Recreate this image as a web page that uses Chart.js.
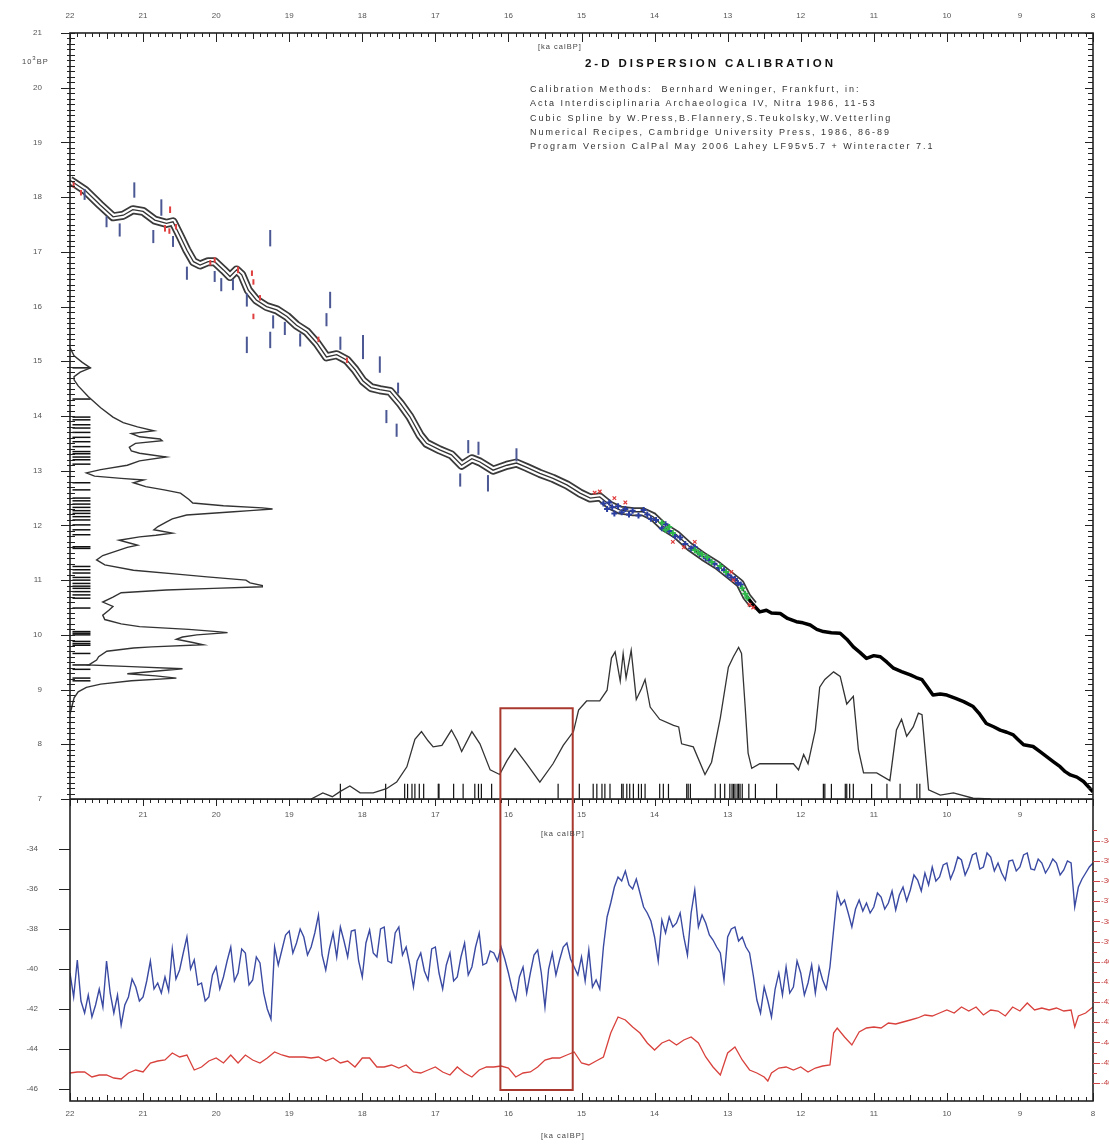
<!DOCTYPE html>
<html>
<head>
<meta charset="utf-8">
<title>2-D Dispersion Calibration</title>
<script src="https://cdn.jsdelivr.net/npm/chart.js@4.4.1/dist/chart.umd.min.js"></script>
<style>
  body { margin: 0; background: #fff; }
  #page { position: relative; width: 1109px; height: 1146px; overflow: hidden; font-family: "Liberation Sans", Arial, sans-serif; }
  #page canvas { position: absolute; left: 0; }
  .lbl { position: absolute; font-size: 7.5px; letter-spacing: 1px; white-space: nowrap; color: #444; }
  #title { position: absolute; left: 585px; top: 57px; font-weight: bold; font-size: 11.5px; letter-spacing: 2.95px; color: #111; white-space: nowrap; }
  #credits { position: absolute; left: 530px; top: 82px; font-size: 9px; line-height: 14.3px; letter-spacing: 2px; color: #333; white-space: nowrap; }
</style>
</head>
<body>
<div id="page">
  <canvas id="calChart" width="1109" height="850" style="top:0"></canvas>
  <canvas id="isoChart" width="1109" height="347" style="top:799px"></canvas>
  <div class="lbl" style="left:538px;top:42px">[ka calBP]</div>
  <div class="lbl" style="left:22px;top:55px">10<sup style="font-size:6px">3</sup>BP</div>
  <div id="title">2-D DISPERSION CALIBRATION</div>
  <div id="credits">
    Calibration Methods:&nbsp; Bernhard Weninger, Frankfurt, in:<br>
    Acta Interdisciplinaria Archaeologica IV, Nitra 1986, 11-53<br>
    Cubic Spline by W.Press,B.Flannery,S.Teukolsky,W.Vetterling<br>
    Numerical Recipes, Cambridge University Press, 1986, 86-89<br>
    Program Version CalPal May 2006 Lahey LF95v5.7 + Winteracter 7.1
  </div>
  <div class="lbl" style="left:541px;top:829px">[ka calBP]</div>
  <div class="lbl" style="left:541px;top:1131px">[ka calBP]</div>
</div>
<script>
// calibration curve, cal ka BP vs 14C age (10^3 BP)
var bandAge = [22.00, 21.79, 21.59, 21.41, 21.27, 21.14, 21.00, 20.84, 20.68, 20.59, 20.49, 20.40, 20.31, 20.22, 20.11, 20.02, 19.90, 19.81, 19.72, 19.65, 19.56, 19.45, 19.31, 19.17, 19.03, 18.90, 18.76, 18.62, 18.49, 18.35, 18.21, 18.10, 17.99, 17.88, 17.76, 17.62, 17.48, 17.35, 17.21, 17.12, 16.94, 16.78, 16.64, 16.50, 16.39, 16.21, 16.02, 15.89, 15.75, 15.57, 15.39, 15.20, 15.02, 14.88, 14.75, 14.61, 14.47, 14.29, 14.16, 14.02, 13.88, 13.70, 13.52, 13.33, 13.15, 12.97, 12.83, 12.74, 12.65];
var band14C = [18.31, 18.12, 17.86, 17.64, 17.67, 17.77, 17.74, 17.58, 17.52, 17.55, 17.28, 17.03, 16.82, 16.76, 16.82, 16.82, 16.67, 16.55, 16.67, 16.58, 16.30, 16.12, 16.00, 15.94, 15.82, 15.66, 15.54, 15.33, 15.08, 15.12, 15.02, 14.85, 14.64, 14.52, 14.48, 14.45, 14.23, 13.99, 13.65, 13.50, 13.38, 13.29, 13.10, 13.22, 13.16, 13.01, 13.10, 13.14, 13.06, 12.95, 12.86, 12.74, 12.59, 12.50, 12.52, 12.37, 12.28, 12.25, 12.25, 12.16, 11.98, 11.83, 11.61, 11.43, 11.28, 11.09, 10.94, 10.70, 10.55];
var tailAge = [12.74, 12.65, 12.56, 12.47, 12.40, 12.28, 12.18, 12.06, 11.97, 11.87, 11.78, 11.69, 11.58, 11.46, 11.37, 11.28, 11.19, 11.10, 11.00, 10.91, 10.82, 10.73, 10.62, 10.50, 10.42, 10.34, 10.27, 10.19, 10.09, 10.00, 9.88, 9.77, 9.64, 9.55, 9.46, 9.36, 9.27, 9.18, 9.09, 9.02, 8.95, 8.82, 8.72, 8.63, 8.54, 8.45, 8.38, 8.31, 8.22, 8.13, 8.06, 8.00];
var tail14C = [10.70, 10.55, 10.42, 10.45, 10.40, 10.39, 10.30, 10.24, 10.22, 10.18, 10.10, 10.06, 10.04, 10.03, 9.92, 9.78, 9.68, 9.57, 9.62, 9.60, 9.50, 9.39, 9.33, 9.27, 9.22, 9.18, 9.05, 8.90, 8.92, 8.90, 8.84, 8.78, 8.69, 8.55, 8.38, 8.32, 8.26, 8.22, 8.17, 8.08, 7.99, 7.96, 7.86, 7.77, 7.68, 7.59, 7.50, 7.44, 7.40, 7.32, 7.22, 7.13];

// dated samples on the curve (blue with error, red)
var dateAge = [21.80, 21.50, 21.32, 21.12, 20.86, 20.75, 20.59, 20.40, 20.02, 19.93, 19.77, 19.58, 19.26, 19.22, 19.06, 18.85, 19.58, 19.26, 18.49, 18.44, 18.30, 17.99, 17.76, 17.67, 17.53, 17.51, 16.66, 16.55, 16.41, 16.28, 15.89];
var date14C = [18.05, 17.55, 17.40, 18.13, 17.28, 17.81, 17.19, 16.61, 16.55, 16.40, 16.40, 16.12, 17.25, 15.72, 15.60, 15.39, 15.30, 15.39, 15.76, 16.12, 15.33, 15.26, 14.94, 13.99, 13.74, 14.51, 12.83, 13.44, 13.41, 12.77, 13.29];
var dateErr = [0.10, 0.10, 0.12, 0.14, 0.12, 0.15, 0.10, 0.12, 0.10, 0.12, 0.10, 0.12, 0.15, 0.12, 0.12, 0.12, 0.15, 0.15, 0.12, 0.15, 0.12, 0.22, 0.15, 0.12, 0.12, 0.10, 0.12, 0.12, 0.12, 0.15, 0.12];
var redDateAge = [21.95, 21.85, 20.70, 20.64, 20.55, 20.63, 20.08, 20.02, 19.70, 19.51, 19.49, 19.49, 19.40, 18.21, 18.60];
var redDate14C = [18.22, 18.08, 17.43, 17.38, 17.46, 17.77, 16.80, 16.85, 16.67, 16.61, 16.45, 15.82, 16.16, 15.02, 15.40];
var redDateErr = [0.05, 0.05, 0.06, 0.05, 0.05, 0.06, 0.05, 0.05, 0.06, 0.05, 0.05, 0.05, 0.05, 0.05, 0.05];

// dense dated series along the curve 14.8 - 12.7 ka
var blueMarkAge = [14.70, 14.65, 14.62, 14.58, 14.55, 14.50, 14.45, 14.40, 14.35, 14.30, 14.22, 14.15, 14.10, 14.05, 13.98, 13.90, 13.85, 13.80, 13.72, 13.65, 13.58, 13.50, 13.45, 13.38, 13.30, 13.25, 13.18, 13.12, 13.05, 13.00, 12.95, 12.90, 12.86, 12.82];
var blueMark14C = [12.40, 12.30, 12.42, 12.33, 12.22, 12.35, 12.24, 12.30, 12.20, 12.27, 12.18, 12.28, 12.20, 12.12, 12.10, 11.95, 12.02, 11.90, 11.80, 11.78, 11.66, 11.58, 11.60, 11.48, 11.40, 11.36, 11.30, 11.22, 11.18, 11.10, 11.05, 11.02, 10.95, 10.92];
var greenMarkAge = [13.90, 13.85, 13.80, 13.75, 13.45, 13.40, 13.35, 13.28, 13.22, 13.10, 13.02, 12.80, 12.76, 12.73];
var greenMark14C = [12.05, 11.92, 11.97, 11.86, 11.55, 11.50, 11.47, 11.42, 11.33, 11.26, 11.15, 10.85, 10.75, 10.68];
var redMarkAge = [14.82, 14.75, 14.55, 14.40, 13.75, 13.60, 13.45, 12.95, 12.92, 12.70, 12.65];
var redMark14C = [12.60, 12.62, 12.50, 12.42, 11.70, 11.60, 11.70, 11.15, 11.00, 10.55, 10.50];

// summed 14C probability (left) and its dates
var dens14C = [15.25, 15.10, 14.98, 14.88, 14.80, 14.72, 14.66, 14.55, 14.35, 14.15, 13.98, 13.88, 13.80, 13.73, 13.68, 13.62, 13.58, 13.55, 13.50, 13.43, 13.36, 13.32, 13.25, 13.18, 13.10, 13.02, 12.96, 12.90, 12.86, 12.83, 12.78, 12.71, 12.65, 12.59, 12.48, 12.41, 12.36, 12.32, 12.30, 12.27, 12.25, 12.19, 12.12, 12.06, 11.98, 11.92, 11.86, 11.82, 11.79, 11.73, 11.67, 11.64, 11.60, 11.55, 11.45, 11.37, 11.28, 11.18, 11.10, 11.06, 11.00, 10.95, 10.90, 10.88, 10.85, 10.82, 10.77, 10.69, 10.60, 10.52, 10.45, 10.36, 10.28, 10.20, 10.15, 10.10, 10.06, 10.04, 10.00, 9.96, 9.92, 9.86, 9.82, 9.78, 9.76, 9.70, 9.60, 9.54, 9.47, 9.45, 9.42, 9.38, 9.33, 9.29, 9.25, 9.21, 9.16, 9.10, 9.04, 8.96, 8.85, 8.70, 8.55];
var densVal = [0, 0.02, 0.06, 0.10, 0.05, 0.02, 0.02, 0.04, 0.09, 0.15, 0.21, 0.26, 0.33, 0.41, 0.30, 0.34, 0.44, 0.45, 0.32, 0.29, 0.30, 0.34, 0.47, 0.34, 0.28, 0.15, 0.08, 0.12, 0.25, 0.36, 0.31, 0.37, 0.46, 0.54, 0.58, 0.60, 0.75, 0.94, 0.99, 0.88, 0.80, 0.57, 0.50, 0.47, 0.43, 0.41, 0.50, 0.42, 0.34, 0.24, 0.30, 0.33, 0.28, 0.24, 0.16, 0.13, 0.17, 0.31, 0.55, 0.67, 0.86, 0.88, 0.94, 0.94, 0.70, 0.47, 0.25, 0.21, 0.16, 0.21, 0.19, 0.16, 0.17, 0.25, 0.34, 0.58, 0.72, 0.77, 0.62, 0.55, 0.52, 0.60, 0.65, 0.40, 0.31, 0.18, 0.14, 0.13, 0.10, 0.09, 0.30, 0.55, 0.40, 0.28, 0.42, 0.52, 0.30, 0.15, 0.08, 0.04, 0.02, 0.01, 0];
var rug14C = [14.88, 14.31, 13.98, 13.93, 13.84, 13.78, 13.70, 13.61, 13.53, 13.44, 13.35, 13.31, 13.25, 13.20, 13.12, 12.78, 12.65, 12.50, 12.45, 12.39, 12.33, 12.27, 12.22, 12.16, 12.10, 12.01, 11.92, 11.83, 11.61, 11.58, 11.25, 11.19, 11.13, 11.05, 11.00, 10.94, 10.89, 10.85, 10.79, 10.73, 10.67, 10.49, 10.06, 10.03, 10.00, 9.88, 9.84, 9.81, 9.66, 9.45, 9.37, 9.21, 9.16];

// summed calendric probability (bottom) and its dates
var calDensAge = [18.70, 18.54, 18.41, 18.30, 18.17, 18.03, 17.85, 17.67, 17.53, 17.39, 17.28, 17.19, 17.10, 17.03, 16.91, 16.78, 16.70, 16.64, 16.50, 16.39, 16.25, 16.12, 16.02, 15.91, 15.75, 15.57, 15.39, 15.25, 15.11, 15.04, 14.93, 14.75, 14.65, 14.59, 14.54, 14.47, 14.43, 14.39, 14.32, 14.25, 14.18, 14.13, 14.06, 13.93, 13.74, 13.67, 13.63, 13.47, 13.31, 13.22, 13.10, 12.99, 12.92, 12.85, 12.81, 12.76, 12.72, 12.67, 12.56, 12.47, 12.19, 12.10, 12.03, 11.96, 11.90, 11.80, 11.74, 11.67, 11.55, 11.46, 11.37, 11.28, 11.21, 11.14, 10.96, 10.78, 10.69, 10.62, 10.55, 10.46, 10.39, 10.34, 10.25, 10.09, 9.91, 9.64, 9.40];
var calDensVal = [0, 0.04, 0.015, 0.05, 0.085, 0.04, 0.04, 0.067, 0.11, 0.21, 0.39, 0.44, 0.38, 0.34, 0.35, 0.45, 0.38, 0.31, 0.44, 0.36, 0.19, 0.16, 0.25, 0.33, 0.23, 0.11, 0.23, 0.35, 0.44, 0.58, 0.64, 0.64, 0.71, 0.92, 0.96, 0.77, 0.95, 0.79, 0.97, 0.65, 0.72, 0.78, 0.60, 0.52, 0.48, 0.47, 0.36, 0.34, 0.16, 0.24, 0.53, 0.86, 0.93, 0.99, 0.95, 0.60, 0.30, 0.20, 0.23, 0.23, 0.23, 0.23, 0.19, 0.29, 0.23, 0.45, 0.73, 0.78, 0.83, 0.80, 0.62, 0.67, 0.32, 0.17, 0.17, 0.12, 0.45, 0.52, 0.41, 0.47, 0.56, 0.55, 0.06, 0.026, 0.04, 0.005, 0];
var rugAge = [18.30, 17.68, 17.42, 17.38, 17.32, 17.28, 17.22, 17.16, 16.96, 16.95, 16.75, 16.62, 16.46, 16.41, 16.37, 16.23, 15.32, 15.03, 14.84, 14.79, 14.72, 14.68, 14.61, 14.45, 14.43, 14.38, 14.34, 14.29, 14.22, 14.18, 14.13, 13.93, 13.88, 13.81, 13.56, 13.54, 13.51, 13.17, 13.10, 13.04, 12.97, 12.94, 12.92, 12.90, 12.87, 12.85, 12.83, 12.80, 12.71, 12.62, 12.33, 11.69, 11.67, 11.58, 11.39, 11.37, 11.33, 11.28, 11.03, 10.82, 10.64, 10.41, 10.37];

// ice core isotope records (bottom panel)
var blueAge = [22.00, 21.95, 21.90, 21.85, 21.80, 21.75, 21.70, 21.65, 21.60, 21.55, 21.50, 21.45, 21.40, 21.35, 21.30, 21.25, 21.20, 21.15, 21.10, 21.05, 21.00, 20.95, 20.90, 20.85, 20.80, 20.75, 20.70, 20.65, 20.60, 20.55, 20.50, 20.45, 20.40, 20.35, 20.30, 20.25, 20.20, 20.15, 20.10, 20.05, 20.00, 19.95, 19.90, 19.85, 19.80, 19.75, 19.70, 19.65, 19.60, 19.55, 19.50, 19.45, 19.40, 19.35, 19.30, 19.25, 19.20, 19.15, 19.10, 19.05, 19.00, 18.95, 18.90, 18.85, 18.80, 18.75, 18.70, 18.65, 18.60, 18.55, 18.50, 18.45, 18.40, 18.35, 18.30, 18.25, 18.20, 18.15, 18.10, 18.05, 18.00, 17.95, 17.90, 17.85, 17.80, 17.75, 17.70, 17.65, 17.60, 17.55, 17.50, 17.45, 17.40, 17.35, 17.30, 17.25, 17.20, 17.15, 17.10, 17.05, 17.00, 16.95, 16.90, 16.85, 16.80, 16.75, 16.70, 16.65, 16.60, 16.55, 16.50, 16.45, 16.40, 16.35, 16.30, 16.25, 16.20, 16.15, 16.10, 16.05, 16.00, 15.95, 15.90, 15.85, 15.80, 15.75, 15.70, 15.65, 15.60, 15.55, 15.50, 15.45, 15.40, 15.35, 15.30, 15.25, 15.20, 15.15, 15.10, 15.05, 15.00, 14.95, 14.90, 14.85, 14.80, 14.75, 14.70, 14.65, 14.60, 14.55, 14.50, 14.45, 14.40, 14.35, 14.30, 14.25, 14.20, 14.15, 14.10, 14.05, 14.00, 13.95, 13.90, 13.85, 13.80, 13.75, 13.70, 13.65, 13.60, 13.55, 13.50, 13.45, 13.40, 13.35, 13.30, 13.25, 13.20, 13.15, 13.10, 13.05, 13.00, 12.95, 12.90, 12.85, 12.80, 12.75, 12.70, 12.65, 12.60, 12.55, 12.50, 12.45, 12.40, 12.35, 12.30, 12.25, 12.20, 12.15, 12.10, 12.05, 12.00, 11.95, 11.90, 11.85, 11.80, 11.75, 11.70, 11.65, 11.60, 11.55, 11.50, 11.45, 11.40, 11.35, 11.30, 11.25, 11.20, 11.15, 11.10, 11.05, 11.00, 10.95, 10.90, 10.85, 10.80, 10.75, 10.70, 10.65, 10.60, 10.55, 10.50, 10.45, 10.40, 10.35, 10.30, 10.25, 10.20, 10.15, 10.10, 10.05, 10.00, 9.95, 9.90, 9.85, 9.80, 9.75, 9.70, 9.65, 9.60, 9.55, 9.50, 9.45, 9.40, 9.35, 9.30, 9.25, 9.20, 9.15, 9.10, 9.05, 9.00, 8.95, 8.90, 8.85, 8.80, 8.75, 8.70, 8.65, 8.60, 8.55, 8.50, 8.45, 8.40, 8.35, 8.30, 8.25, 8.20, 8.15, 8.10, 8.05, 8.00];
var blueD18O = [-40.2, -41.4, -39.55, -41.6, -42.2, -41.3, -42.4, -41.8, -41.0, -41.9, -39.6, -41.2, -42.2, -41.3, -42.8, -41.8, -41.4, -40.5, -40.9, -41.6, -41.4, -40.6, -39.6, -41.0, -40.7, -41.2, -40.4, -41.1, -39.0, -40.5, -40.05, -39.2, -38.4, -40.0, -39.55, -40.8, -40.7, -41.6, -41.4, -40.3, -39.9, -41.0, -40.4, -39.6, -38.9, -40.6, -40.2, -39.0, -39.2, -40.8, -40.55, -39.4, -39.7, -41.2, -42.0, -42.5, -38.9, -39.8, -39.05, -38.3, -38.1, -39.2, -38.7, -38.0, -38.4, -39.3, -38.9, -38.2, -37.3, -39.3, -40.05, -39.0, -38.2, -39.4, -37.9, -38.6, -39.4, -38.1, -38.05, -39.6, -40.4, -38.7, -38.05, -39.2, -39.4, -38.0, -37.9, -39.6, -39.7, -38.2, -37.9, -39.3, -38.9, -39.8, -40.9, -39.6, -39.2, -40.1, -40.55, -39.0, -38.9, -40.2, -41.0, -39.8, -39.2, -40.6, -40.4, -39.4, -38.7, -40.3, -39.9, -38.9, -38.2, -39.8, -39.7, -39.1, -39.2, -39.6, -38.9, -39.5, -40.2, -41.0, -41.55, -40.4, -39.9, -41.2, -40.2, -39.3, -39.05, -40.2, -41.9, -40.0, -39.2, -40.3, -39.55, -38.9, -38.7, -39.5, -39.9, -40.3, -39.4, -40.6, -39.05, -40.9, -40.55, -41.0, -38.9, -37.4, -36.7, -35.9, -35.4, -35.6, -35.1, -35.8, -36.0, -35.5, -36.2, -36.9, -37.2, -37.6, -38.4, -39.6, -37.55, -38.2, -37.4, -37.9, -37.7, -37.2, -38.4, -39.3, -37.2, -36.05, -37.9, -37.3, -37.7, -38.3, -38.55, -38.9, -39.2, -40.55, -38.4, -38.0, -37.9, -38.6, -38.4, -38.9, -39.2, -40.3, -41.55, -42.2, -40.9, -41.6, -42.4, -41.0, -40.2, -41.3, -39.9, -41.2, -40.9, -39.6, -40.2, -41.3, -40.7, -39.8, -41.2, -39.9, -40.55, -41.0, -39.9, -38.05, -36.2, -36.8, -36.55, -37.2, -37.9, -37.0, -36.55, -37.1, -36.7, -37.2, -36.9, -36.2, -36.4, -37.0, -36.7, -36.1, -37.05, -36.3, -35.9, -36.6, -36.05, -35.3, -35.55, -36.1, -35.2, -35.8, -34.9, -35.6, -35.4, -34.8, -34.7, -35.5, -35.05, -34.4, -34.55, -35.3, -34.9, -34.3, -34.2, -35.0, -34.9, -34.2, -34.4, -35.1, -34.7, -35.2, -35.55, -34.6, -34.55, -35.1, -34.9, -34.3, -34.2, -35.0, -35.05, -34.5, -34.7, -35.2, -34.9, -34.5, -34.7, -35.3, -35.05, -34.6, -34.7, -36.9, -35.9, -35.5, -35.2, -34.9, -34.7];
var redAge = [22.0, 21.9, 21.8, 21.7, 21.6, 21.5, 21.4, 21.3, 21.2, 21.1, 21.0, 20.9, 20.8, 20.7, 20.6, 20.5, 20.4, 20.3, 20.2, 20.1, 20.0, 19.9, 19.8, 19.7, 19.6, 19.5, 19.4, 19.3, 19.2, 19.1, 19.0, 18.9, 18.8, 18.7, 18.6, 18.5, 18.4, 18.3, 18.2, 18.1, 18.0, 17.9, 17.8, 17.7, 17.6, 17.5, 17.4, 17.3, 17.2, 17.1, 17.0, 16.9, 16.8, 16.7, 16.6, 16.5, 16.4, 16.3, 16.2, 16.1, 16.0, 15.9, 15.8, 15.7, 15.6, 15.5, 15.4, 15.3, 15.2, 15.1, 15.0, 14.9, 14.8, 14.7, 14.6, 14.5, 14.4, 14.3, 14.2, 14.1, 14.0, 13.9, 13.8, 13.7, 13.6, 13.5, 13.4, 13.3, 13.2, 13.1, 13.0, 12.9, 12.8, 12.7, 12.6, 12.5, 12.45, 12.4, 12.3, 12.2, 12.1, 12.0, 11.9, 11.8, 11.7, 11.6, 11.55, 11.5, 11.4, 11.3, 11.2, 11.1, 11.0, 10.9, 10.8, 10.7, 10.6, 10.5, 10.4, 10.3, 10.2, 10.1, 10.0, 9.9, 9.8, 9.7, 9.6, 9.5, 9.4, 9.3, 9.2, 9.1, 9.0, 8.9, 8.8, 8.7, 8.6, 8.5, 8.4, 8.3, 8.25, 8.2, 8.1, 8.0];
var redD18O = [-45.2, -45.15, -45.15, -45.4, -45.3, -45.3, -45.45, -45.5, -45.2, -45.05, -45.15, -44.7, -44.6, -44.55, -44.2, -44.4, -44.3, -45.05, -44.9, -44.6, -44.45, -44.7, -44.3, -44.7, -44.3, -44.55, -44.7, -44.45, -44.15, -44.3, -44.4, -44.4, -44.4, -44.45, -44.4, -44.6, -44.45, -44.7, -44.6, -44.9, -44.45, -44.45, -44.9, -44.9, -44.8, -44.95, -44.8, -45.15, -45.2, -45.05, -44.9, -45.15, -45.3, -44.9, -45.2, -45.4, -45.05, -44.9, -44.9, -44.85, -44.95, -45.4, -45.2, -45.15, -44.9, -44.55, -44.45, -44.45, -44.3, -44.15, -44.7, -44.8, -44.6, -44.4, -43.2, -42.4, -42.55, -42.9, -43.2, -43.7, -44.05, -43.7, -43.55, -43.8, -43.55, -43.4, -43.7, -44.4, -44.9, -45.3, -44.2, -43.9, -44.55, -45.05, -45.2, -45.4, -45.6, -45.2, -44.95, -44.9, -45.05, -44.9, -45.15, -44.95, -44.85, -44.8, -43.2, -42.95, -43.4, -43.8, -43.15, -42.95, -42.9, -42.95, -42.7, -42.75, -42.65, -42.55, -42.45, -42.3, -42.35, -42.2, -42.05, -42.2, -41.9, -42.1, -41.9, -42.3, -42.05, -42.1, -42.35, -41.9, -42.1, -41.7, -42.05, -41.95, -42.05, -41.95, -42.1, -42.05, -42.9, -42.35, -42.2, -41.9];

// axis ticks and the marked interval
var calTicks = [22, 21, 20, 19, 18, 17, 16, 15, 14, 13, 12, 11, 10, 9, 8];
var c14Ticks = [21, 20, 19, 18, 17, 16, 15, 14, 13, 12, 11, 10, 9, 8, 7];
var isoTicks = [-34, -36, -38, -40, -42, -44, -46];
var redAxisTicks = [0, 1, 2, 3, 4, 5, 6, 7, 8, 9, 10, 11, 12];
var redAxisLabels = ["-46", "-45", "-44", "-43", "-42", "-41", "-40", "-39", "-38", "-37", "-36", "-35", "-34"];
var boxOld = 16.11, boxYoung = 15.12, boxTop14C = 8.66, boxBottomIso = -46.05;

var tickFont = { family: "Liberation Sans", size: 8 };
var tickColor = "#555";

function pts(xs, ys) {
    return xs.map(function (x, i) { return { x: x, y: ys[i] }; });
}

function seg(ctx, x1, y1, x2, y2) {
    ctx.beginPath();
    ctx.moveTo(x1, y1);
    ctx.lineTo(x2, y2);
    ctx.stroke();
}

function errRadius(errs, axis) {
    return function (c) {
        var s = c.chart.scales[axis];
        return Math.abs(s.getPixelForValue(0) - s.getPixelForValue(errs[c.dataIndex]));
    };
}

function calAxis(pos, height, hideEnds, pad) {
    return {
        type: "linear", position: pos, min: 8, max: 22, reverse: true,
        afterFit: function (s) { s.height = height; s.paddingLeft = 0; s.paddingRight = 0; },
        afterBuildTicks: function (s) { s.ticks = calTicks.map(function (v) { return { value: v }; }); },
        grid: { display: false, drawTicks: false }, border: { display: false },
        ticks: {
            padding: pad, font: tickFont, color: tickColor, autoSkip: false, maxRotation: 0,
            callback: function (v) { return hideEnds && (v === 22 || v === 8) ? "" : String(v); }
        }
    };
}

function sideAxis(pos, min, max, width, list, pad, color, labels) {
    return {
        type: "linear", position: pos, min: min, max: max,
        afterFit: function (s) { s.width = width; s.paddingTop = 0; s.paddingBottom = 0; },
        afterBuildTicks: function (s) { s.ticks = list.map(function (v) { return { value: v }; }); },
        grid: { display: false, drawTicks: false }, border: { display: false },
        ticks: {
            padding: pad, font: tickFont, color: color,
            callback: function (v, i) { return labels ? labels[i] : String(v); }
        }
    };
}

var calFrame = {
    id: "calFrame",
    afterDraw: function (chart) {
        var ctx = chart.ctx, a = chart.chartArea, x = chart.scales.x, y = chart.scales.y;
        ctx.save();
        ctx.strokeStyle = "#222";
        ctx.lineWidth = 1;
        for (var i = 0; i <= 140; i++) {
            var px = Math.round(x.getPixelForValue(8 + i / 10)) + 0.5;
            var big = i % 10 === 0, mid = i % 5 === 0;
            seg(ctx, px, a.top, px, a.top + (big ? 9 : mid ? 6 : 4));
            seg(ctx, px, a.bottom, px, a.bottom + (big ? 7 : mid ? 5 : 4));
        }
        for (var j = 0; j <= 140; j++) {
            var py = Math.round(y.getPixelForValue(7 + j / 10)) + 0.5;
            var major = j % 10 === 0;
            seg(ctx, a.left - (major ? 9 : 3), py, a.left + 5, py);
            seg(ctx, a.right - (major ? 8 : 5), py, a.right, py);
        }
        ctx.lineWidth = 1.6;
        ctx.strokeRect(a.left, a.top, a.right - a.left, a.bottom - a.top);

        var bl = x.getPixelForValue(boxOld), br = x.getPixelForValue(boxYoung), bt = y.getPixelForValue(boxTop14C);
        ctx.strokeStyle = "#a9392e";
        ctx.lineWidth = 2;
        ctx.beginPath();
        ctx.moveTo(bl, a.bottom); ctx.lineTo(bl, bt); ctx.lineTo(br, bt); ctx.lineTo(br, a.bottom);
        ctx.stroke();
        ctx.restore();
    }
};

var isoFrame = {
    id: "isoFrame",
    afterDraw: function (chart) {
        var ctx = chart.ctx, a = chart.chartArea, x = chart.scales.x, y = chart.scales.y, r = chart.scales.y3;
        ctx.save();
        ctx.strokeStyle = "#222";
        ctx.lineWidth = 1;
        for (var i = 0; i <= 140; i++) {
            var px = Math.round(x.getPixelForValue(8 + i / 10)) + 0.5;
            var big = i % 10 === 0, mid = i % 5 === 0;
            seg(ctx, px, a.bottom, px, a.bottom - (big ? 8 : mid ? 6 : 4));
        }
        isoTicks.forEach(function (v) {
            var py = Math.round(y.getPixelForValue(v)) + 0.5;
            seg(ctx, a.left - 11, py, a.left, py);
        });
        ctx.lineWidth = 1.6;
        ctx.strokeRect(a.left, a.top, a.right - a.left, a.bottom - a.top);

        ctx.strokeStyle = "#d04545";
        ctx.lineWidth = 1;
        redAxisTicks.forEach(function (v) {
            var py = Math.round(r.getPixelForValue(v)) + 0.5;
            seg(ctx, a.right, py, a.right + 7, py);
            var ph = Math.round(r.getPixelForValue(v + 0.5)) + 0.5;
            seg(ctx, a.right, ph, a.right + 4, ph);
        });

        var bl = x.getPixelForValue(boxOld), br = x.getPixelForValue(boxYoung), bb = y.getPixelForValue(boxBottomIso);
        ctx.strokeStyle = "#a9392e";
        ctx.lineWidth = 2;
        ctx.beginPath();
        ctx.moveTo(bl, a.top); ctx.lineTo(bl, bb); ctx.lineTo(br, bb); ctx.lineTo(br, a.top);
        ctx.stroke();
        ctx.restore();
    }
};

new Chart(document.getElementById("calChart"), {
    type: "scatter",
    data: {
        datasets: [
            { data: pts(redMarkAge, redMark14C), pointStyle: "crossRot", pointRadius: 2.5, pointBorderColor: "#e03a3a", pointBorderWidth: 1.2, order: 1 },
            { data: pts(greenMarkAge, greenMark14C), pointStyle: "cross", pointRadius: 3, pointBorderColor: "#2fb84a", pointBorderWidth: 2, order: 2 },
            { data: pts(blueMarkAge, blueMark14C), pointStyle: "cross", pointRadius: 3, pointBorderColor: "#2a3da0", pointBorderWidth: 2, order: 3 },
            { data: pts(redDateAge, redDate14C), pointStyle: "line", pointRotation: 90, pointRadius: errRadius(redDateErr, "y"), pointBorderColor: "#e04040", pointBorderWidth: 2, order: 4 },
            { data: pts(dateAge, date14C), pointStyle: "line", pointRotation: 90, pointRadius: errRadius(dateErr, "y"), pointBorderColor: "#4b5894", pointBorderWidth: 2, order: 5 },
            { data: pts(tailAge, tail14C), showLine: true, pointRadius: 0, borderColor: "#000", borderWidth: 3.5, borderJoinStyle: "round", order: 6 },
            { data: pts(bandAge, band14C), showLine: true, pointRadius: 0, borderColor: "#333", borderWidth: 1.3, order: 7 },
            { data: pts(bandAge, band14C), showLine: true, pointRadius: 0, borderColor: "#fff", borderWidth: 5.5, borderJoinStyle: "round", order: 8 },
            { data: pts(bandAge, band14C), showLine: true, pointRadius: 0, borderColor: "#3a3a3a", borderWidth: 9, borderJoinStyle: "round", order: 9 },
            { data: pts(densVal, dens14C), xAxisID: "xd", showLine: true, pointRadius: 0, borderColor: "#333", borderWidth: 1.4, order: 10 },
            { data: pts(rug14C.map(function () { return 0.056; }), rug14C), xAxisID: "xd", pointStyle: "line", pointRadius: 9, pointBorderColor: "#111", pointBorderWidth: 1.5, order: 11 },
            { data: pts(calDensAge, calDensVal), yAxisID: "yd", showLine: true, pointRadius: 0, borderColor: "#333", borderWidth: 1.3, order: 12 },
            { data: pts(rugAge, rugAge.map(function () { return 0.05; })), yAxisID: "yd", pointStyle: "line", pointRotation: 90, pointRadius: 7.5, pointBorderColor: "#111", pointBorderWidth: 1.2, order: 13 }
        ]
    },
    options: {
        responsive: false,
        animation: false,
        events: [],
        layout: { padding: { left: 0, right: 16, top: 0, bottom: 0 } },
        plugins: { legend: { display: false }, tooltip: { enabled: false } },
        scales: {
            x: calAxis("bottom", 51, true, 11),
            xTop: calAxis("top", 33, false, 12),
            y: sideAxis("left", 7, 21, 70, c14Ticks, 28, tickColor),
            xd: { type: "linear", display: false, min: 0, max: 5 },
            yd: { type: "linear", display: false, min: 0, max: 5 }
        }
    },
    plugins: [calFrame]
});

new Chart(document.getElementById("isoChart"), {
    type: "scatter",
    data: {
        datasets: [
            { data: pts(blueAge, blueD18O), showLine: true, pointRadius: 0, borderColor: "#3a4aa2", borderWidth: 1.4, order: 1 },
            { data: pts(redAge, redD18O), showLine: true, pointRadius: 0, borderColor: "#d8413c", borderWidth: 1.3, order: 2 }
        ]
    },
    options: {
        responsive: false,
        animation: false,
        events: [],
        layout: { padding: 0 },
        plugins: { legend: { display: false }, tooltip: { enabled: false } },
        scales: {
            x: calAxis("bottom", 45, false, 8),
            y: sideAxis("left", -46.6, -31.5, 70, isoTicks, 32, tickColor),
            y3: sideAxis("right", -0.9, 14.06, 16, redAxisTicks, 8, "#c43a3a", redAxisLabels)
        }
    },
    plugins: [isoFrame]
});
</script>
</body>
</html>
